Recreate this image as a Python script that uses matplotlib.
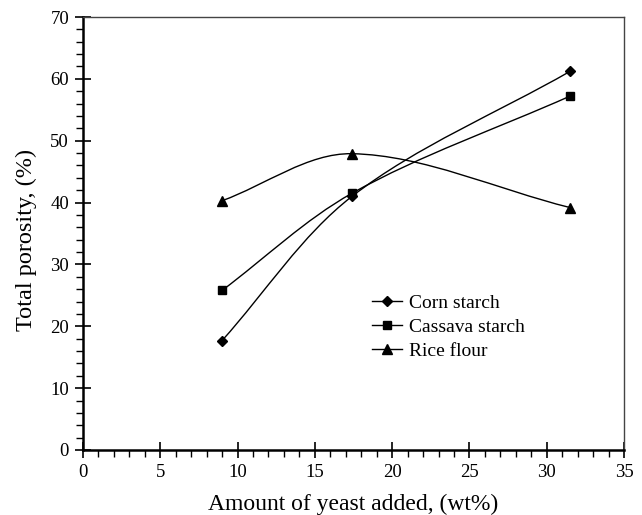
import matplotlib.pyplot as plt
import numpy as np
from matplotlib.path import Path
from matplotlib.patches import PathPatch
from matplotlib.ticker import MultipleLocator

plt.rcParams['font.family'] = ['Liberation Serif', 'DejaVu Serif']

# data
yeast = [9, 17.4, 31.5]
corn = [17.7, 41.0, 61.2]
cassava = [25.8, 41.5, 57.2]
rice = [40.3, 47.9, 39.2]
labels = ['Corn starch', 'Cassava starch', 'Rice flour']
markers = ['D', 's', '^']
msizes = [5, 6, 7]


def smooth_path(ax, x, y):
    # Excel-style smoothed line, control points worked out in screen space
    p = ax.transData.transform(np.column_stack([x, y]))
    n = len(p)
    verts = [p[0]]
    codes = [Path.MOVETO]
    for i in range(n - 1):
        p0 = p[i - 1] if i > 0 else p[i]
        p3 = p[i + 2] if i + 2 < n else p[i + 1]
        d01 = np.hypot(*(p[i] - p0))
        d12 = np.hypot(*(p[i + 1] - p[i]))
        d23 = np.hypot(*(p3 - p[i + 1]))
        c1 = p[i] + (p[i + 1] - p0) * d12 / (d01 + d12) / 3
        c2 = p[i + 1] - (p3 - p[i]) * d12 / (d12 + d23) / 3
        verts += [c1, c2, p[i + 1]]
        codes += [Path.CURVE4] * 3
    verts = ax.transData.inverted().transform(np.array(verts))
    return Path(verts, codes)


fig = plt.figure(figsize=(6.42, 5.15), dpi=100)
ax = fig.add_axes([83 / 642, 65 / 515, 541 / 642, 433 / 515])
ax.set_xlim(0, 35)
ax.set_ylim(0, 70)

for vals, lab, mk, ms in zip([corn, cassava, rice], labels, markers, msizes):
    ax.add_patch(PathPatch(smooth_path(ax, yeast, vals), fill=False,
                           edgecolor='black', lw=1.0, zorder=2))
    ax.plot(yeast, vals, linestyle='none', marker=mk, color='black',
            markersize=ms, zorder=3)
    ax.plot([], [], color='black', lw=1.0, marker=mk, markersize=ms, label=lab)

ax.xaxis.set_major_locator(MultipleLocator(5))
ax.xaxis.set_minor_locator(MultipleLocator(1))
ax.yaxis.set_major_locator(MultipleLocator(10))
ax.yaxis.set_minor_locator(MultipleLocator(2))
ax.tick_params(which='major', direction='inout', length=12, width=1.2,
               labelsize=13.5, colors='black', pad=4)
ax.tick_params(which='minor', direction='out', length=5, width=1.0)
for s in ['left', 'bottom']:
    ax.spines[s].set_linewidth(1.8)
for s in ['top', 'right']:
    ax.spines[s].set_linewidth(1.0)
    ax.spines[s].set_color('#444444')

ax.set_xlabel('Amount of yeast added, (wt%)', fontsize=17, labelpad=9)
ax.set_ylabel('Total porosity, (%)', fontsize=17.5, labelpad=8)
ax.yaxis.set_label_coords(-0.085, 0.485)

ax.legend(loc='upper left', bbox_to_anchor=(0.516, 0.382), frameon=False,
          fontsize=14, handlelength=1.55, handletextpad=0.35,
          labelspacing=0.32, borderpad=0)

fig.savefig('out.png', dpi=100)
